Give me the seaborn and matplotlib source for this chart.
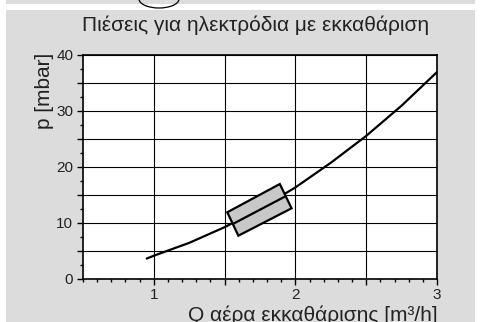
import numpy as np
import matplotlib
matplotlib.use("Agg")
import matplotlib.pyplot as plt
from matplotlib.patches import Rectangle, Arc
from matplotlib.ticker import MultipleLocator, FixedLocator
import seaborn as sns

# curve: purge air flow [m3/h] vs pressure [mbar]
q_air = [0.95, 1.0, 1.25, 1.5, 1.75, 2.0, 2.25, 2.5, 2.75, 3.0]
p_mbar = [3.6, 4.1, 6.4, 9.2, 12.5, 16.3, 20.7, 25.5, 30.9, 36.9]

# working range box (corners) and its centre line
box_q = [1.519, 1.890, 1.973, 1.597]
box_p = [11.86, 16.91, 12.57, 7.68]
mid_q = [1.558, 1.932]
mid_p = [9.77, 14.74]

x_ticks = [1, 1.5, 2, 2.5, 3]
x_labels = ["1", "", "2", "", "3"]
y_ticks = [0, 5, 10, 15, 20, 25, 30, 35, 40]
y_labels = ["0", "", "10", "", "20", "", "30", "", "40"]

title = "Πιέσεις για ηλεκτρόδια με εκκαθάριση"
xlabel = "Q αέρα εκκαθάρισης [m³/h]"
ylabel = "p [mbar]"

sns.set_style("white")
plt.rcParams["font.family"] = ["Liberation Sans", "DejaVu Sans"]

W, H = 480, 322
fig = plt.figure(figsize=(W / 100, H / 100), dpi=100, facecolor="white")

# gray panel behind the chart, plus the strip of the panel above
gray = "#dcdcdc"
fig.patches.append(Rectangle((6 / W, 0), 469 / W, 1 - 10 / H, transform=fig.transFigure,
                             facecolor=gray, edgecolor="none", zorder=-2))
fig.patches.append(Rectangle((6 / W, 1 - 3.5 / H), 469 / W, 3.5 / H, transform=fig.transFigure,
                             facecolor=gray, edgecolor="none", zorder=-2))
fig.patches.append(Arc((159 / W, 1 + 1 / H), 40 / W, 18 / H, theta1=180, theta2=360,
                       transform=fig.transFigure, color="black", lw=0.9, zorder=-1))

ax = fig.add_axes([83 / W, (H - 278.7) / H, (437 - 83) / W, (278.7 - 54.7) / H])
ax.set_zorder(2)
ax.set_facecolor("white")

sns.lineplot(x=q_air, y=p_mbar, ax=ax, color="black", lw=1.6, zorder=3)
ax.fill(box_q, box_p, facecolor="#c8c8c8", edgecolor="black", lw=1.6, zorder=4)
ax.plot(mid_q, mid_p, color="black", lw=1.6, zorder=5)

ax.set_xlim(0.5, 3)
ax.set_ylim(0, 40)
ax.xaxis.set_major_locator(FixedLocator(x_ticks))
ax.set_xticklabels(x_labels)
ax.xaxis.set_minor_locator(MultipleLocator(0.1))
ax.yaxis.set_major_locator(FixedLocator(y_ticks))
ax.set_yticklabels(y_labels)
ax.yaxis.set_minor_locator(MultipleLocator(2.5))
ax.grid(True, which="major", color="black", lw=0.8)
ax.set_axisbelow(True)
ax.tick_params(which="major", direction="out", length=4, width=1, color="black",
               labelsize=11, labelcolor="#222222", pad=3)
ax.tick_params(which="minor", direction="out", length=2, width=1, color="black")
ax.tick_params(axis="x", which="both", bottom=True)
ax.tick_params(axis="y", which="both", left=True)
for s in ax.spines.values():
    s.set_color("black")
    s.set_linewidth(1.2)
ax.set_xlabel("")
ax.set_ylabel("")

fig.text(256 / W, 1 - 31 / H, title, ha="center", va="baseline", fontsize=15, color="#222222")
fig.text(438 / W, 1 - 321 / H, xlabel, ha="right", va="baseline", fontsize=15, color="#222222")
fig.text(45 / W, 1 - 53 / H, ylabel, ha="center", va="top", rotation=90, fontsize=15, color="#222222")

fig.savefig("out.png", dpi=100, facecolor="white")
